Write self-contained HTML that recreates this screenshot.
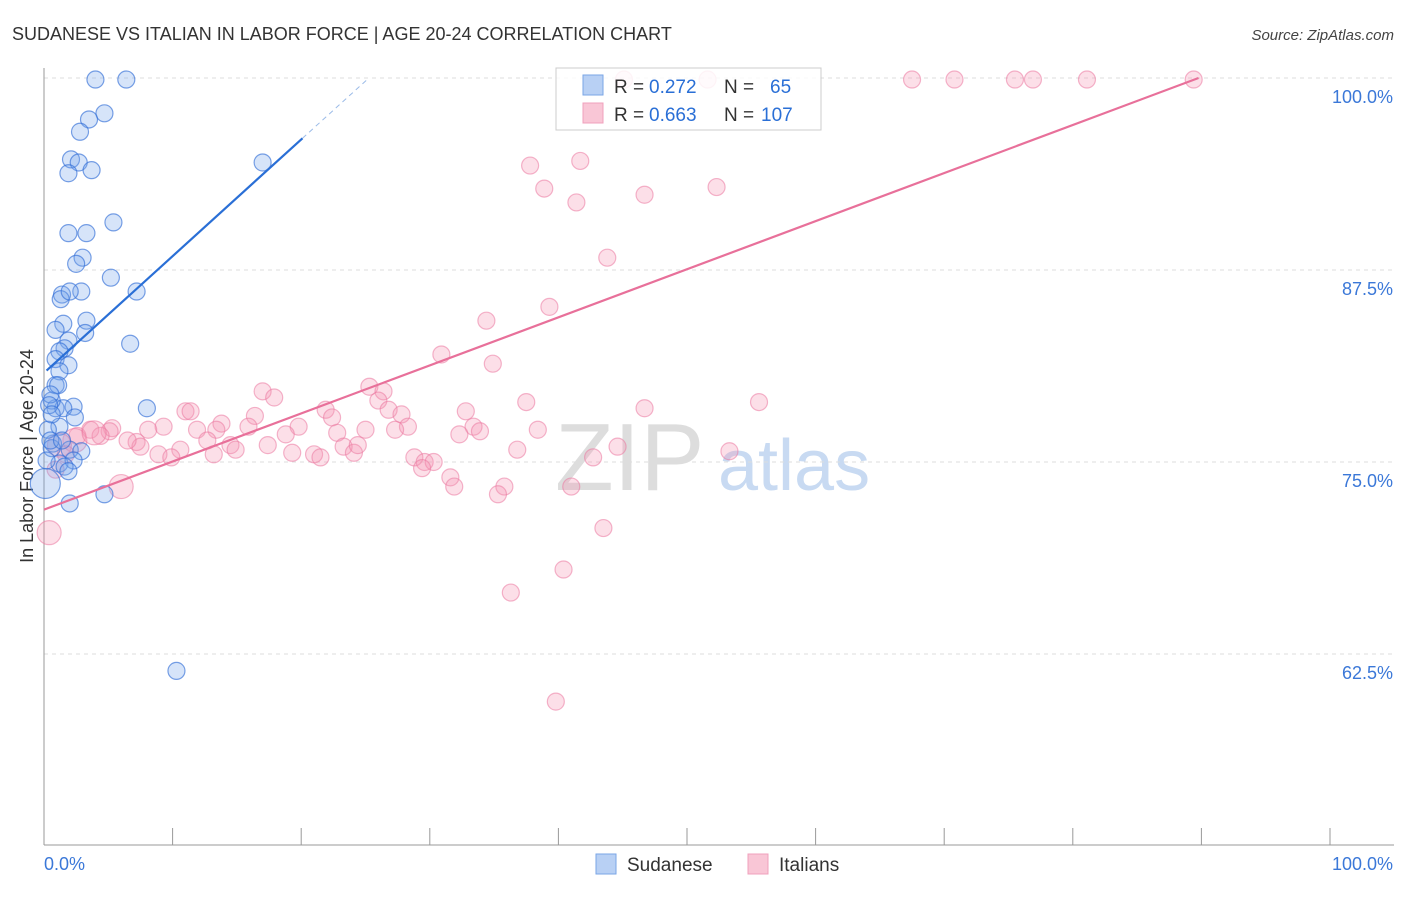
<!DOCTYPE html>
<html><head><meta charset="utf-8"><style>
body{margin:0;background:#fff;font-family:"Liberation Sans",sans-serif}
svg text{font-family:"Liberation Sans",sans-serif}
</style></head><body>
<svg id="chart" width="1406" height="892" viewBox="0 0 1406 892">
<text x="12" y="40" font-size="18" fill="#333">SUDANESE VS ITALIAN IN LABOR FORCE | AGE 20-24 CORRELATION CHART</text>
<text x="1394" y="40" font-size="15" fill="#444" text-anchor="end" font-style="italic">Source: ZipAtlas.com</text>
<text transform="translate(33,456) rotate(-90)" font-size="18" fill="#333" text-anchor="middle">In Labor Force | Age 20-24</text>
<g>
<text x="555" y="490" font-size="96" fill="#ddd" font-family="Liberation Serif,serif">ZIP</text>
<text x="718" y="490" font-size="72" fill="#c8daf2">atlas</text>
</g>
<g id="grid"></g><g id="axes"></g><g id="pts"></g><g id="lines"></g>
<g>
<rect x="556" y="68" width="265" height="62" fill="rgba(255,255,255,0.85)" stroke="#ccc"/>
<rect x="583" y="75" width="20" height="20" fill="#b8d0f4" stroke="#7aa6e6"/>
<rect x="583" y="103" width="20" height="20" fill="#f9c6d6" stroke="#f0a0bc"/>
<text x="614" y="93" font-size="19" fill="#333">R =</text>
<text x="649" y="93" font-size="19" fill="#2a6fd6">0.272</text>
<text x="724" y="93" font-size="19" fill="#333">N =</text>
<text x="770" y="93" font-size="19" fill="#2a6fd6">65</text>
<text x="614" y="121" font-size="19" fill="#333">R =</text>
<text x="649" y="121" font-size="19" fill="#2a6fd6">0.663</text>
<text x="724" y="121" font-size="19" fill="#333">N =</text>
<text x="761" y="121" font-size="19" fill="#2a6fd6">107</text>
</g>
<g>
<rect x="596" y="854" width="20" height="20" fill="#b8d0f4" stroke="#7aa6e6"/>
<text x="627" y="871" font-size="19" fill="#333">Sudanese</text>
<rect x="748" y="854" width="20" height="20" fill="#f9c6d6" stroke="#f0a0bc"/>
<text x="779" y="871" font-size="19" fill="#333">Italians</text>
</g>
</svg>
<script>
const yTicks=[100,87.5,75,62.5];
const yTickLabels=["100.0%","87.5%","75.0%","62.5%"];
const xTicks=[0,10,20,30,40,50,60,70,80,90,100];
const sudX=[4.0,6.4,4.7,3.5,2.8,17.0,2.1,2.7,3.7,1.9,5.4,1.9,3.3,3.0,2.5,5.2,7.2,1.4,2.9,1.3,2.0,3.3,1.5,0.9,3.2,6.7,1.9,1.6,1.2,0.9,1.9,1.2,0.9,1.1,8.0,2.3,0.9,1.5,0.6,0.5,0.4,1.2,2.4,0.7,0.6,2.0,2.9,1.2,2.3,1.6,1.9,0.1,2.0,4.7,10.3,0.3,0.5,0.2,0.6,1.4];
const sudY=[99.9,99.9,97.7,97.3,96.5,94.5,94.7,94.5,94.0,93.8,90.6,89.9,89.9,88.3,87.9,87.0,86.1,85.9,86.1,85.6,86.1,84.2,84.0,83.6,83.4,82.7,82.9,82.4,82.2,81.7,81.3,80.9,80.0,80.0,78.5,78.6,78.5,78.5,79.0,79.4,78.7,77.3,77.9,76.2,75.9,75.8,75.7,74.9,75.1,74.7,74.4,73.6,72.3,72.9,61.4,77.1,76.4,75.1,78.1,76.4];
const sudBig=[51];
const itaX=[45.1,51.6,67.5,70.8,75.5,76.9,81.1,89.4,37.8,41.7,38.9,41.4,46.7,52.3,43.8,39.3,34.4,30.9,34.9,25.3,26.4,26.0,17.0,17.9,11.0,11.4,26.8,27.8,21.9,22.4,16.4,13.8,15.9,19.8,32.8,37.5,46.7,55.6,33.4,33.9,32.3,28.3,27.3,38.4,25.0,22.8,18.8,13.4,11.9,9.3,8.1,5.3,3.6,5.1,2.6,4.4,7.2,7.5,6.5,12.7,14.5,10.6,13.2,14.9,8.9,9.9,17.4,19.3,21.0,21.5,23.3,24.1,24.4,28.8,29.6,30.3,29.4,31.6,31.9,42.7,44.6,53.3,36.8,35.8,35.3,41.0,43.5,40.4,36.3,39.8,2.4,1.2,3.9,6.0,0.4,0.9,1.7];
const itaY=[99.9,99.9,99.9,99.9,99.9,99.9,99.9,99.9,94.3,94.6,92.8,91.9,92.4,92.9,88.3,85.1,84.2,82.0,81.4,79.9,79.6,79.0,79.6,79.2,78.3,78.3,78.4,78.1,78.4,77.9,78.0,77.5,77.3,77.3,78.3,78.9,78.5,78.9,77.3,77.0,76.8,77.3,77.1,77.1,77.1,76.9,76.8,77.1,77.1,77.3,77.1,77.2,77.1,77.0,76.7,76.7,76.3,76.0,76.4,76.4,76.1,75.8,75.5,75.8,75.5,75.3,76.1,75.6,75.5,75.3,76.0,75.6,76.1,75.3,75.0,75.0,74.6,74.0,73.4,75.3,76.0,75.7,75.8,73.4,72.9,73.4,70.7,68.0,66.5,59.4,76.4,76.1,76.9,73.4,70.4,74.5,75.5];
const itaBig=[90,91,92,93,94];
const sudTrend=[80.8,0.76];
const itaTrend=[71.9,0.313];
const X=v=>44+v*12.86, Y=v=>78+(100-v)*15.36;
const NS="http://www.w3.org/2000/svg";
function mk(t,a,p){const e=document.createElementNS(NS,t);for(const k in a)e.setAttribute(k,a[k]);p.appendChild(e);return e;}
const grid=document.getElementById('grid'),axes=document.getElementById('axes'),pts=document.getElementById('pts'),lines=document.getElementById('lines');
yTicks.forEach((t,i)=>{
 const l=mk('line',{x1:44,x2:1394,y1:Y(t),y2:Y(t),stroke:'#ddd','stroke-dasharray':'4,4'},grid);
 
 
 const tx=mk('text',{x:1393,y:Y(t)+25,'font-size':18,fill:'#3b78d8','text-anchor':'end'},axes);tx.textContent=yTickLabels[i];
 
 
});
const ax=mk('line',{x1:44,x2:44,y1:68,y2:845,stroke:'#999'},axes);


const bx=mk('line',{x1:44,x2:1394,y1:845,y2:845,stroke:'#999'},axes);


xTicks.forEach(t=>{const l=mk('line',{x1:X(t),x2:X(t),y1:828,y2:845,stroke:'#999'},axes);
 
 });
[[0,"0.0%","start",44],[100,"100.0%","end",1393]].forEach(d=>{const t=mk('text',{x:d[3],y:870,'font-size':18,fill:'#3b78d8','text-anchor':d[2]},axes);t.textContent=d[1];
 
 });
itaX.forEach((x,i)=>{const c=mk('circle',{cx:X(x),cy:Y(itaY[i]),r:itaBig.includes(i)?12:8.5,fill:'rgba(245,150,180,0.3)',stroke:'rgba(235,120,160,0.55)','stroke-width':1.2},pts);
 
 });
sudX.forEach((x,i)=>{const c=mk('circle',{cx:X(x),cy:Y(sudY[i]),r:sudBig.includes(i)?15:8.5,fill:'rgba(120,165,235,0.3)',stroke:'rgba(50,110,215,0.65)','stroke-width':1.2},pts);
 
 });
const sl=mk('line',{x1:X(0.2),y1:Y(sudTrend[0]+0.2*sudTrend[1]),x2:X(20.1),y2:Y(sudTrend[0]+20.1*sudTrend[1]),stroke:'#2a6fd6','stroke-width':2.2},lines);


const xe=(100-sudTrend[0])/sudTrend[1];
const sd=mk('line',{x1:X(20.1),y1:Y(sudTrend[0]+20.1*sudTrend[1]),x2:X(xe),y2:Y(100),stroke:'#9bbbe8','stroke-width':1,'stroke-dasharray':'5,4'},lines);


const ie=(100-itaTrend[0])/itaTrend[1];
const il=mk('line',{x1:X(0),y1:Y(itaTrend[0]),x2:X(ie),y2:Y(100),stroke:'#e8709a','stroke-width':2.2},lines);


</script>
</body></html>
